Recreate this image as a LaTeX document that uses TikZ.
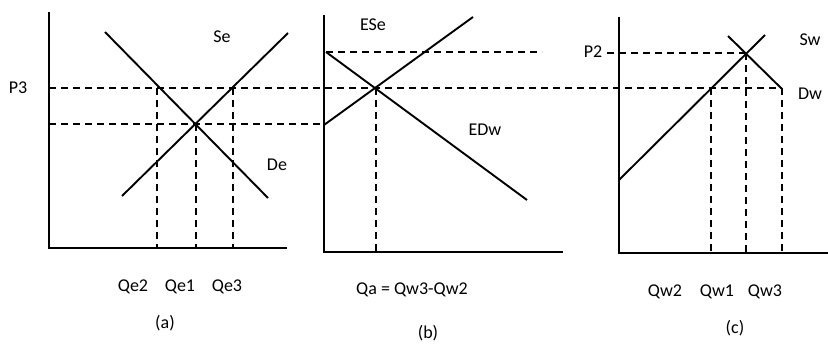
\documentclass[tikz,border=0pt]{standalone}
\usepackage{fontspec}
\setmainfont{Carlito}
\begin{document}
\begin{tikzpicture}[x=1pt,y=-1pt,
  axis/.style={line width=2.2pt},
  curve/.style={line width=1.9pt},
  guide/.style={line width=1.9pt, dash pattern=on 7pt off 5pt},
  lbl/.style={font=\fontsize{18}{20}\selectfont, inner sep=0pt, anchor=center}]
\useasboundingbox[fill=white] (0,0) rectangle (828,353);
% ---------- panel (a)
\coordinate (aTop) at (49,12);
\coordinate (aO) at (49,248);
\coordinate (aR) at (287,248);
\draw[axis] (aTop) -- (aO) -- (aR);
\coordinate (De1) at (105,32);
\coordinate (De2) at (268,198);
\coordinate (Se1) at (122,196);
\coordinate (Se2) at (288,33);
\draw[curve] (De1) -- (De2);
\draw[curve] (Se1) -- (Se2);
% ---------- panel (b)
\coordinate (bTop) at (324,15);
\coordinate (bO) at (324,252);
\coordinate (bR) at (563,252);
\draw[axis] (bTop) -- (bO) -- (bR);
\coordinate (ES1) at (324,125);
\coordinate (ES2) at (473,17);
\coordinate (ED1) at (326,52);
\coordinate (ED2) at (527,200);
\draw[curve] (ES1) -- (ES2);
\draw[curve] (ED1) -- (ED2);
% ---------- panel (c)
\coordinate (cTop) at (619,17);
\coordinate (cO) at (619,253);
\coordinate (cR) at (828,253);
\draw[axis] (cTop) -- (cO) -- (cR);
\coordinate (Sw1) at (619,180);
\coordinate (Sw2) at (765,35);
\coordinate (Dw1) at (728,36);
\coordinate (Dw2) at (782,89);
\draw[curve] (Sw1) -- (Sw2);
\draw[curve] (Dw1) -- (Dw2);
% ---------- dashed guides
\coordinate (P3L) at (49,88);
\coordinate (P3R) at (782,88);
\draw[guide] (P3L) -- (P3R);
\coordinate (PeL) at (49,124);
\coordinate (PeR) at (324,124);
\draw[guide] (PeL) -- (PeR);
\coordinate (P2a) at (326,52);
\coordinate (P2b) at (542,52);
\coordinate (P2c) at (607,53);
\coordinate (P2d) at (746,53);
\draw[guide] (P2a) -- (P2b);
\draw[guide] (P2c) -- (P2d);
% verticals (a)
\coordinate (qe2t) at (157,88);  \coordinate (qe2b) at (157,248);
\coordinate (qe1t) at (196,124); \coordinate (qe1b) at (196,248);
\coordinate (qe3t) at (233,88);  \coordinate (qe3b) at (233,248);
\draw[guide] (qe2t) -- (qe2b);
\draw[guide] (qe1t) -- (qe1b);
\draw[guide] (qe3t) -- (qe3b);
% vertical (b)
\coordinate (qat) at (376,88); \coordinate (qab) at (376,252);
\draw[guide] (qat) -- (qab);
% verticals (c)
\coordinate (qw1t) at (711,88); \coordinate (qw1b) at (711,253);
\coordinate (qwmt) at (746,53); \coordinate (qwmb) at (746,253);
\coordinate (qw3t) at (782,88); \coordinate (qw3b) at (782,253);
\draw[guide] (qw1t) -- (qw1b);
\draw[guide] (qwmt) -- (qwmb);
\draw[guide] (qw3t) -- (qw3b);
% ---------- labels
\node[lbl] (tP3) at (18,88) {P3};
\node[lbl] (tSe) at (222,37) {Se};
\node[lbl] (tDe) at (277,165) {De};
\node[lbl] (tQe2) at (133,287) {Qe2};
\node[lbl] (tQe1) at (180,287) {Qe1};
\node[lbl] (tQe3) at (227,287) {Qe3};
\node[lbl] (ta) at (165,323) {(a)};
\node[lbl] (tESe) at (373,25) {ESe};
\node[lbl] (tEDw) at (485,130) {EDw};
\node[lbl] (tQa) at (412,290) {Qa = Qw3-Qw2};
\node[lbl] (tb) at (428,333) {(b)};
\node[lbl] (tP2) at (593,52) {P2};
\node[lbl] (tSw) at (810,40) {Sw};
\node[lbl] (tDw) at (810,94) {Dw};
\node[lbl] (tQw2) at (665,292) {Qw2};
\node[lbl] (tQw1) at (717,292) {Qw1};
\node[lbl] (tQw3) at (765,292) {Qw3};
\node[lbl] (tc) at (735,328) {(c)};
\end{tikzpicture}
\end{document}
